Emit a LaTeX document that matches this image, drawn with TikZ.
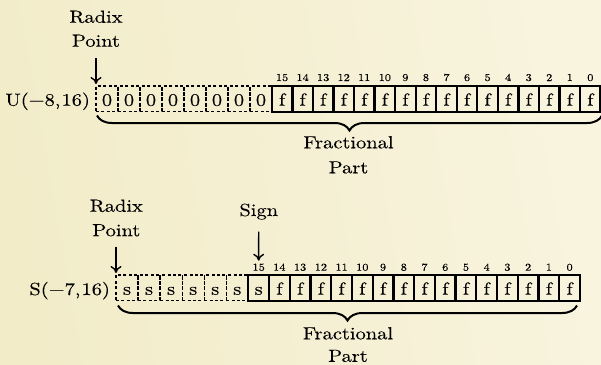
\documentclass[tikz,border=0pt]{standalone}
\usepackage{fontspec}
\setmainfont{lmroman10-regular.otf}[FakeStretch=1.17,FakeBold=0.2]
\usetikzlibrary{arrows.meta,decorations.pathreplacing,calc}
\definecolor{bgL}{RGB}{242,236,201}
\definecolor{bgR}{RGB}{248,244,222}
\begin{document}
\begin{tikzpicture}[x=1pt,y=-1pt,
  every node/.style={inner sep=0pt, outer sep=0pt},
  lbl/.style={font=\fontsize{17.5}{21}\selectfont, anchor=base},
  bitno/.style={font=\fontsize{10.5}{12}\selectfont, anchor=base},
  cellbase/.style={minimum height=25.7pt, text height=13.7pt, text depth=0pt, font=\fontsize{17.5}{21}\selectfont},
  dcell/.style={cellbase, draw, dash pattern=on 3pt off 2.4pt, line width=1.3pt},
  scell/.style={cellbase, draw, line width=2.3pt},
  arr/.style={-{To[length=7pt,width=11pt]}, line width=1.4pt},
  brc/.style={decorate, decoration={brace, mirror, amplitude=15pt}, line width=2pt}
]
\shade[left color=bgL, right color=bgR, shading angle=100] (0,0) rectangle (601,364);
\useasboundingbox (0,0) rectangle (601,364);

% ---------- U(-8,16) ----------
\node[lbl] (radixUa) at (96,22.7) {Radix};
\node[lbl] (radixUb) at (96,46.7) {Point};
\coordinate (radixUtail) at (96,58.3);
\node[lbl, anchor=base east] (ulabel) at (90,105.7) {U(−8,\kern1pt16)};
\foreach \i in {0,...,7}
  \node[dcell, minimum width=22pt] (ud\i) at ({107+22*\i}, 98.85) {0};
\foreach \j in {0,...,15} {
  \pgfmathtruncatemacro\b{15-\j}
  \node[scell, minimum width=20.55pt] (uf\b) at ({282.075+20.55*\j}, 98.85) {f};
  \node[bitno] (ub\b) at ({282.075+20.55*\j}, 81) {\b};
}
\draw[arr, shorten >=2pt] (radixUtail) -- (ud0.north west);
\coordinate (ubraceL) at (97,115.5);
\coordinate (ubraceR) at (602,115.5);
\draw[brc] (ubraceL) -- (ubraceR);
\node[lbl] (ufraca) at (348.5,148.3) {Fractional};
\node[lbl] (ufracb) at (348.5,173.3) {Part};

% ---------- S(-7,16) ----------
\node[lbl] (radixSa) at (116.3,211.7) {Radix};
\node[lbl] (radixSb) at (116.3,236.2) {Point};
\coordinate (radixStail) at (116,246.7);
\node[lbl] (signa) at (258.8,216) {Sign};
\coordinate (signtail) at (258.7,231.7);
\node[lbl, anchor=base east] (slabel) at (110,295) {S(−7,\kern1pt16)};
\foreach \i in {0,...,5}
  \node[dcell, minimum width=22.05pt] (sd\i) at ({127.025+22.05*\i}, 287.85) {s};
\node[scell, minimum width=20.73pt] (sf15) at (258.665, 287.85) {s};
\node[bitno] (sb15) at (258.665, 270.7) {15};
\foreach \j in {1,...,15} {
  \pgfmathtruncatemacro\b{15-\j}
  \node[scell, minimum width=20.73pt] (sf\b) at ({258.665+20.73*\j}, 287.85) {f};
  \node[bitno] (sb\b) at ({258.665+20.73*\j}, 270.7) {\b};
}
\draw[arr, shorten >=2pt] (radixStail) -- (sd0.north west);
\draw[arr, shorten >=3pt] (signtail) -- (sb15.north);
\coordinate (sbraceL) at (118,305.5);
\coordinate (sbraceR) at (577,305.5);
\draw[brc] (sbraceL) -- (sbraceR);
\node[lbl] (sfraca) at (348,339.3) {Fractional};
\node[lbl] (sfracb) at (348,361.8) {Part};
\end{tikzpicture}
\end{document}
